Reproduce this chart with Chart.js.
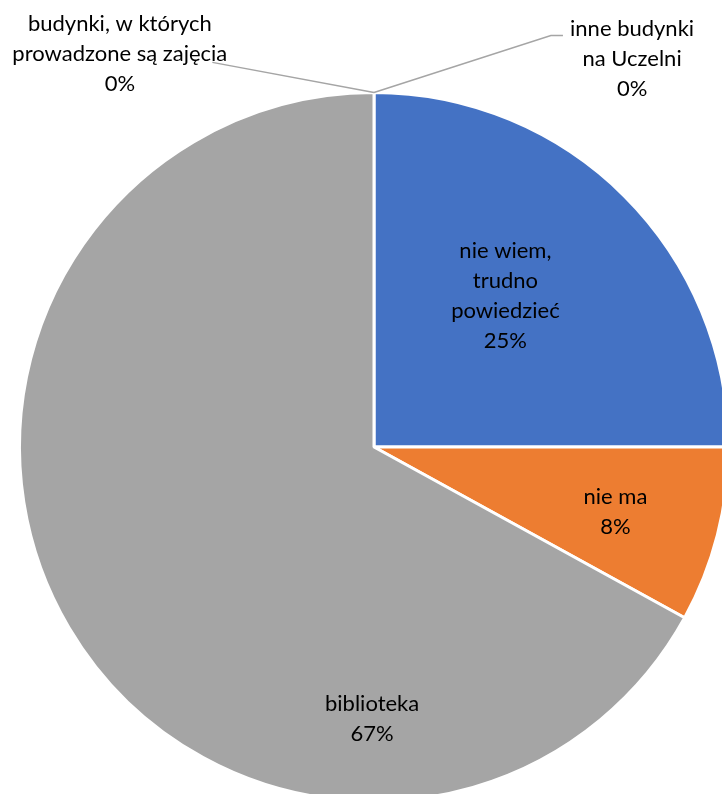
<!DOCTYPE html>
<html>
<head>
<meta charset="utf-8">
<script src="https://cdn.jsdelivr.net/npm/chart.js@4.4.0/dist/chart.umd.min.js"></script>
<style>
    html, body { margin: 0; padding: 0; background: #fff; overflow: hidden; }
    #wrap { position: relative; width: 740px; height: 810px; }
</style>
</head>
<body>
<div id="wrap"><canvas id="chart" width="740" height="810"></canvas></div>
<script>
(function () {
    "use strict";

    // Data
    const categories = [
        "inne budynki na Uczelni",
        "nie wiem, trudno powiedzieć",
        "nie ma",
        "biblioteka",
        "budynki, w których prowadzone są zajęcia",
    ];
    const values = [0, 25, 8, 67, 0];
    const labelLines = [
        ["inne budynki", "na Uczelni"],
        ["nie wiem,", "trudno", "powiedzieć"],
        ["nie ma"],
        ["biblioteka"],
        ["budynki, w których", "prowadzone są zajęcia"],
    ];
    const colors = ["#5B9BD5", "#4472C4", "#ED7D31", "#A5A5A5", "#FFC000"];

    // label placement (relative to centre, in units of radius)
    const inside = {
        1: { angle: 41, r: 0.565 },
        2: { angle: 105, r: 0.705 },
        3: { angle: 180.4, r: 0.768 },
    };
    const outside = {
        0: { dx: 0.728, dy: -1.096, line: [[0.499, -1.161], [0.533, -1.161]] },
        4: { dx: -0.717, dy: -1.11, line: [[-0.456, -1.085]] },
    };

    const total = values.reduce((a, b) => a + b, 0);
    const font = '22px Lato';
    const lineH = 30;

    const labelPlugin = {
        id: "pieLabels",
        afterDatasetsDraw(chart) {
            const ctx = chart.ctx;
            const arc = chart.getDatasetMeta(0).data[0];
            const cx = arc.x;
            const cy = arc.y;
            const R = arc.outerRadius;
            ctx.save();
            ctx.font = font;
            ctx.fillStyle = "#000";
            ctx.textAlign = "center";
            ctx.textBaseline = "middle";
            values.forEach((v, i) => {
                const lines = labelLines[i].concat([Math.round((v / total) * 100) + "%"]);
                let x, y;
                if (inside[i]) {
                    const a = (inside[i].angle * Math.PI) / 180;
                    x = cx + Math.sin(a) * R * inside[i].r;
                    y = cy - Math.cos(a) * R * inside[i].r;
                } else {
                    const o = outside[i];
                    x = cx + o.dx * R;
                    y = cy + o.dy * R;
                    // leader line from the slice's position on the rim
                    ctx.strokeStyle = "#A5A5A5";
                    ctx.lineWidth = 1.5;
                    ctx.beginPath();
                    ctx.moveTo(cx, cy - R);
                    o.line.forEach((p) => ctx.lineTo(cx + p[0] * R, cy + p[1] * R));
                    ctx.stroke();
                }
                const y0 = y - ((lines.length - 1) * lineH) / 2;
                lines.forEach((t, k) => ctx.fillText(t, x, y0 + k * lineH));
            });
            ctx.restore();
        },
    };

    new Chart(document.getElementById("chart"), {
        type: "pie",
        data: {
            labels: categories,
            datasets: [
                {
                    data: values,
                    backgroundColor: colors,
                    borderColor: "#fff",
                    borderWidth: 3,
                },
            ],
        },
        options: {
            responsive: false,
            animation: false,
            layout: {
                padding: { left: 18, right: 10, top: 91, bottom: 7 },
            },
            plugins: {
                legend: { display: false },
                tooltip: { enabled: false },
            },
        },
        plugins: [labelPlugin],
    });
})();
</script>
</body>
</html>
